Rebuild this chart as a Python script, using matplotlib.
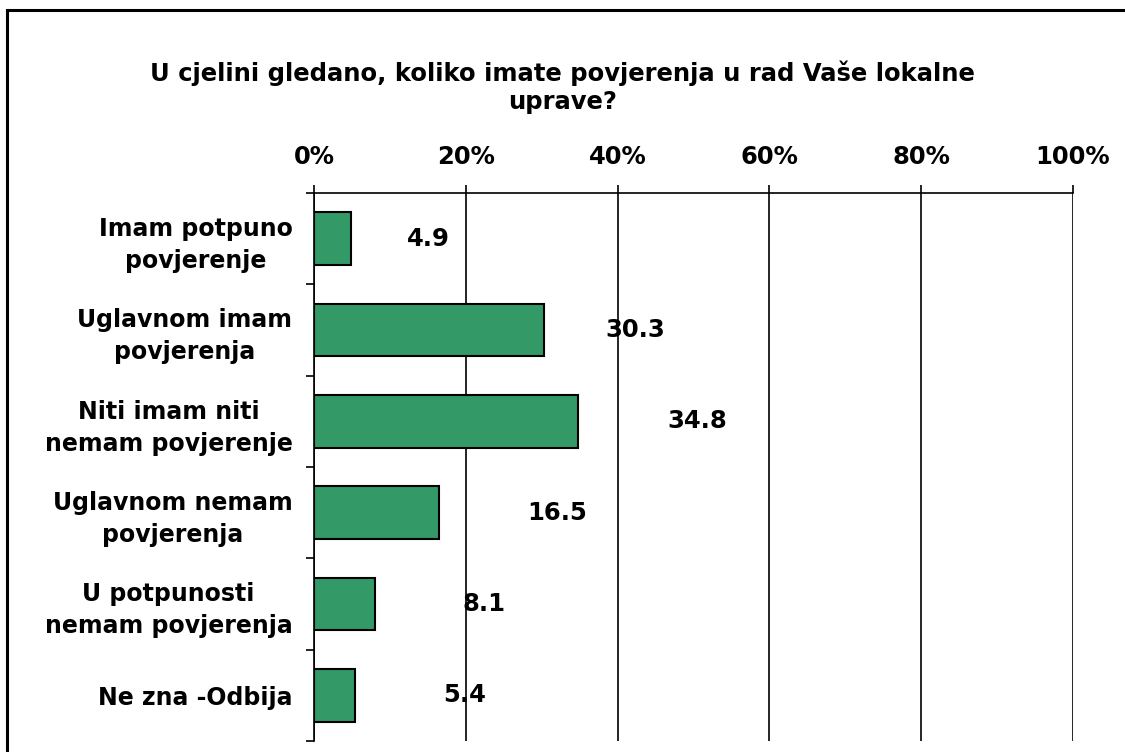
import matplotlib
matplotlib.use("Agg")
import matplotlib.pyplot as plt
from matplotlib.patches import Rectangle

# data
categories = [
    "Imam potpuno\npovjerenje",
    "Uglavnom imam\npovjerenja",
    "Niti imam niti\nnemam povjerenje",
    "Uglavnom nemam\npovjerenja",
    "U potpunosti\nnemam povjerenja",
    "Ne zna -Odbija",
]
values = [4.9, 30.3, 34.8, 16.5, 8.1, 5.4]
tick_values = [0, 20, 40, 60, 80, 100]
tick_labels = ["0%", "20%", "40%", "60%", "80%", "100%"]
title = "U cjelini gledano, koliko imate povjerenja u rad Vaše lokalne\nuprave?"

# label placement (Excel put them at uneven distances right of the bars)
label_offsets = [10.2, 12.0, 15.7, 15.5, 14.3, 14.5]

BAR_COLOR = "#339966"


def create_plot():
    plt.rcParams["font.family"] = ["DejaVu Sans"]
    plt.rcParams["font.weight"] = "bold"

    fig = plt.figure(figsize=(11.25, 7.52), dpi=100)
    ax = fig.add_axes([314 / 1125, 1 - 741 / 752, (1073 - 314) / 1125, (741 - 193) / 752])

    pos = list(range(len(categories)))
    ax.barh(pos, values, height=0.58, color=BAR_COLOR, edgecolor="black",
            linewidth=1.5, zorder=3)

    for p, v, off in zip(pos, values, label_offsets):
        ax.text(v + off, p, f"{v:.1f}", ha="center", va="center",
                fontsize=17.5, fontweight="bold", zorder=4)

    ax.set_xlim(0, 100)
    ax.set_ylim(len(categories) - 0.5, -0.5)

    ax.xaxis.tick_top()
    ax.set_xticks(tick_values)
    ax.set_xticklabels(tick_labels, fontsize=17.5, fontweight="bold")
    ax.tick_params(axis="x", length=5.8, width=1.2, pad=11.5)
    ax.grid(axis="x", color="black", linewidth=1.2, zorder=1)

    # category ticks sit between the bars, labels centred on each bar
    ax.set_yticks([p + 0.5 for p in pos[:-1]] + [-0.5, len(categories) - 0.5])
    ax.set_yticklabels([])
    ax.set_yticks(pos, minor=True)
    ax.set_yticklabels(categories, minor=True, fontsize=17, fontweight="bold",
                       ha="right", multialignment="center", linespacing=1.42)
    ax.tick_params(axis="y", which="major", length=5.8, width=1.2)
    ax.tick_params(axis="y", which="minor", length=0, pad=15.5)

    for side in ["right", "bottom"]:
        ax.spines[side].set_visible(False)
    ax.spines["top"].set_linewidth(1.2)
    ax.spines["left"].set_linewidth(1.2)

    fig.text(0.5, 1 - 87 / 752, title, ha="center", va="center",
             fontsize=17.5, fontweight="bold", linespacing=1.2)

    # outer chart-area frame (right and bottom edges fall outside the image)
    fig.patches.append(Rectangle((7 / 1125, -0.05), 1.2, 1 - 10 / 752 + 0.05,
                                 transform=fig.transFigure, fill=False,
                                 edgecolor="black", linewidth=2.2))

    fig.savefig("out.png", dpi=100)


def main():
    create_plot()


if __name__ == "__main__":
    main()
